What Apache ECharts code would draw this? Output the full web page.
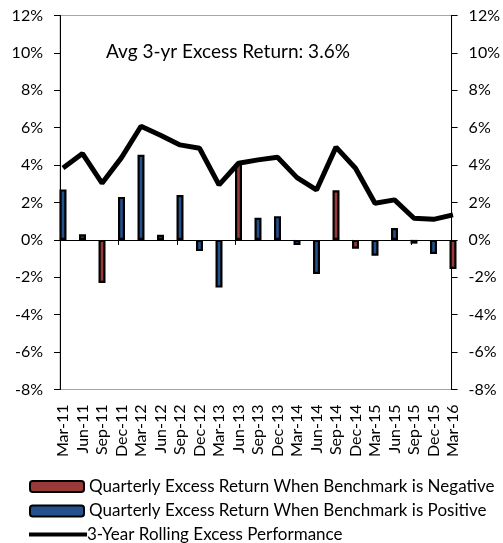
<!DOCTYPE html>
<html><head><meta charset="utf-8">
<script src="https://cdn.jsdelivr.net/npm/echarts@6/dist/echarts.min.js"></script>
<style>html,body{margin:0;padding:0;background:#fff}#c{width:503px;height:543px}</style>
</head><body><div id="c"></div>
<script>
var categories = ['Mar-11','Jun-11','Sep-11','Dec-11','Mar-12','Jun-12','Sep-12','Dec-12','Mar-13','Jun-13','Sep-13','Dec-13','Mar-14','Jun-14','Sep-14','Dec-14','Mar-15','Jun-15','Sep-15','Dec-15','Mar-16'];
var excessWhenBenchNegative = [null,null,-2.3,null,null,0.27,null,null,null,4.1,null,null,null,null,2.65,-0.47,null,null,-0.2,null,-1.55];
var excessWhenBenchPositive = [2.7,0.3,null,2.3,4.55,null,2.4,-0.6,-2.55,null,1.18,1.27,-0.27,-1.82,null,null,-0.85,0.64,null,-0.75,null];
var rolling3yr = [3.85,4.62,3.03,4.4,6.08,5.6,5.08,4.9,2.94,4.1,4.28,4.42,3.33,2.67,4.96,3.83,1.96,2.14,1.16,1.1,1.34];
var yTicks = {min:-8, max:12, interval:2};
var annotation = 'Avg 3-yr Excess Return: 3.6%';
var legendNames = ['Quarterly Excess Return When Benchmark is Negative','Quarterly Excess Return When Benchmark is Positive','3-Year Rolling Excess Performance'];

var FONT = 'Lato';
var chart = echarts.init(document.getElementById('c'), null, {renderer:'canvas'});
var TOP = 15.5, BOTTOM = 153.5;
var yAxisBase = {
  type:'value', min:yTicks.min, max:yTicks.max, interval:yTicks.interval,
  splitLine:{show:false},
  axisLine:{show:true, lineStyle:{color:'#000', width:1}},
  axisTick:{show:true, length:6, lineStyle:{color:'#000'}},
  axisLabel:{formatter:function(v){return v+'%';}, color:'#000', fontSize:16, fontFamily:FONT, margin:17}
};
function hiddenY(g){return {type:'value', gridIndex:g, min:yTicks.min, max:yTicks.max, show:false};}
function legendRow(name, top, extra){
  return Object.assign({
    orient:'horizontal', left:29, top:top, padding:0, itemWidth:54, itemHeight:11,
    textStyle:{fontSize:17, fontFamily:FONT, color:'#000'},
    data:[{name:name}]
  }, extra||{});
}
var option = {
  animation:false,
  textStyle:{fontFamily:FONT},
  grid:[
    {left:60, right:47, top:TOP, bottom:BOTTOM, show:true, borderColor:'#a6a6a6', borderWidth:1},
    {left:60, right:53, top:TOP, bottom:BOTTOM},
    {left:63, right:50, top:TOP, bottom:BOTTOM}
  ],
  xAxis:[
    {type:'category', gridIndex:0, data:categories, boundaryGap:false,
     axisLine:{show:true, onZero:true, lineStyle:{color:'#000'}},
     axisTick:{show:false}, axisLabel:{show:false}},
    {type:'category', gridIndex:1, data:categories, boundaryGap:false,
     axisLine:{show:false, onZero:true},
     axisTick:{show:true, length:5, lineStyle:{color:'#000'}}, axisLabel:{show:false}},
    {type:'category', gridIndex:2, data:categories, boundaryGap:false, position:'bottom',
     axisLine:{show:false, onZero:false}, axisTick:{show:false},
     axisLabel:{show:true, rotate:90, interval:0, margin:15, color:'#000', fontSize:16, fontFamily:FONT}}
  ],
  yAxis:[
    Object.assign({}, yAxisBase, {gridIndex:0, position:'left'}),
    Object.assign({}, yAxisBase, {gridIndex:0, position:'right', axisLabel:Object.assign({}, yAxisBase.axisLabel, {align:'left'})}),
    hiddenY(1),
    hiddenY(2)
  ],
  legend:[
    legendRow(legendNames[0], 478),
    legendRow(legendNames[1], 502.5),
    legendRow(legendNames[2], 526, {itemWidth:58, itemHeight:4, itemGap:0, data:[{name:legendNames[2], icon:'rect'}], textStyle:{fontSize:17, fontFamily:FONT, color:'#000', padding:[0,0,0,-5]}})
  ],
  graphic:[
    {type:'text', left:106, top:42, style:{text:annotation, font:'19px '+FONT, fill:'#000'}}
  ],
  series:[
    {name:legendNames[0], type:'bar', xAxisIndex:2, yAxisIndex:3, stack:'q', barWidth:7, data:excessWhenBenchNegative,
     itemStyle:{color:'#983A38', borderColor:'#000', borderWidth:2.2}, z:2},
    {name:legendNames[1], type:'bar', xAxisIndex:2, yAxisIndex:3, stack:'q', barWidth:7, data:excessWhenBenchPositive,
     itemStyle:{color:'#24508C', borderColor:'#000', borderWidth:2.2}, z:2},
    {name:legendNames[2], type:'line', xAxisIndex:2, yAxisIndex:3, data:rolling3yr, symbol:'none', showSymbol:false,
     lineStyle:{color:'#000', width:5}, itemStyle:{color:'#000'}, z:5}
  ]
};
chart.setOption(option);
</script></body></html>
